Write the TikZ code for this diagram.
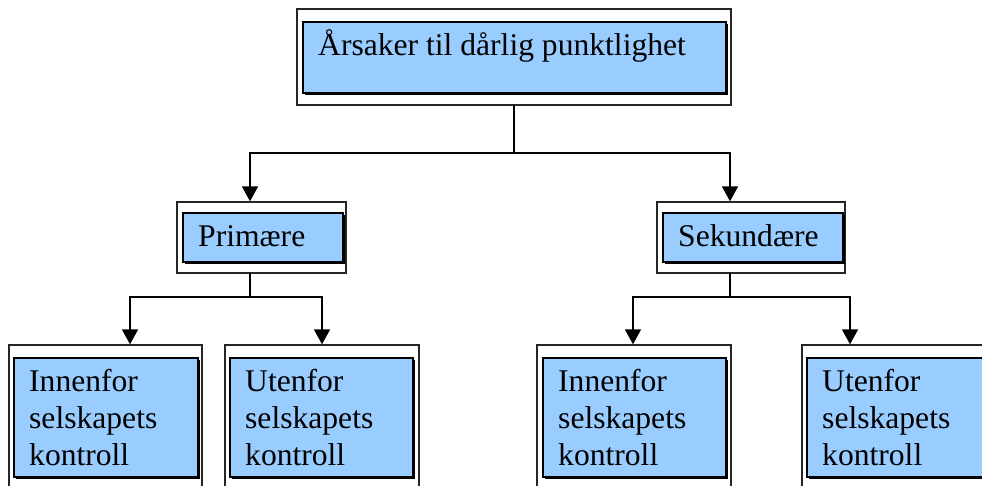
\documentclass[tikz,border=0pt]{standalone}
\usepackage{fontspec}
\setmainfont{Liberation Serif}
\usetikzlibrary{arrows.meta,calc,fit}
\definecolor{boxblue}{RGB}{153,204,255}
\tikzset{
  framebox/.style={draw=black!85, line width=1.4pt, fill=white},
  panel/.style={draw=black, line width=2pt, fill=boxblue},
  panelshadow/.style={fill=black},
  boxtext/.style={anchor=base west, inner sep=0pt,
    font=\fontsize{31.6}{37}\selectfont},
  link/.style={line width=1.8pt, line cap=rect},
  arrowlink/.style={link, -{Triangle[length=15pt,width=16pt]}}
}
% lines of a label, aligned on the baseline of the first one
\newcommand{\stacklines}[1]{\begin{tabular}[t]{@{}l@{}}#1\end{tabular}}
% box: name, outer corners, inner corners, text
\newcommand{\orgbox}[6]{%
  \node[framebox, inner sep=0pt, fit={#2 #3}] (#1) {};
  \fill[panelshadow] ($#4+(2,2)$) rectangle ($#5+(2,2)$);
  \node[panel, inner sep=0pt, fit={#4 #5}] (#1in) {};
  \node[boxtext] (#1txt) at ($(#1in.north west)+(16,34.5)$) {\stacklines{#6}};
}
\begin{document}
\begin{tikzpicture}[x=1pt,y=-1pt]
\useasboundingbox (0,0) rectangle (982,486);
\begin{scope}
\clip (0,0) rectangle (982,486);
\orgbox{top}{(297,9)}{(731,105)}{(303,22)}{(726,93)}{Årsaker til dårlig punktlighet}
\orgbox{prim}{(177,202)}{(346,273)}{(183,213)}{(343,262)}{Primære}
\orgbox{sek}{(657,202)}{(845,273)}{(663,213)}{(843,262)}{Sekundære}
\orgbox{pa}{(9,345)}{(202,505)}{(14,358)}{(198,477)}{Innenfor\\selskapets\\kontroll}
\orgbox{pb}{(225,345)}{(419,505)}{(230,358)}{(413,477)}{Utenfor\\selskapets\\kontroll}
\orgbox{sa}{(537,345)}{(731,505)}{(543,358)}{(726,477)}{Innenfor\\selskapets\\kontroll}
\orgbox{sb}{(802,345)}{(996,505)}{(807,358)}{(990,477)}{Utenfor\\selskapets\\kontroll}

% junction points of the connectors
\coordinate (j0) at (514,153);
\coordinate (jl) at (250,153);
\coordinate (jr) at (730,153);
\coordinate (jp) at (250,297);
\coordinate (jpl) at (130,297);
\coordinate (jpr) at (322,297);
\coordinate (js) at (730,297);
\coordinate (jsl) at (633,297);
\coordinate (jsr) at (850,297);

\draw[link] (j0 |- top.south) -- (j0);
\draw[link] (jl) -- (jr);
\draw[arrowlink] (jl) -- (jl |- prim.north);
\draw[arrowlink] (jr) -- (jr |- sek.north);

\draw[link] (jp |- prim.south) -- (jp);
\draw[link] (jpl) -- (jpr);
\draw[arrowlink] (jpl) -- (jpl |- pa.north);
\draw[arrowlink] (jpr) -- (jpr |- pb.north);

\draw[link] (js |- sek.south) -- (js);
\draw[link] (jsl) -- (jsr);
\draw[arrowlink] (jsl) -- (jsl |- sa.north);
\draw[arrowlink] (jsr) -- (jsr |- sb.north);
\end{scope}
\end{tikzpicture}
\end{document}
